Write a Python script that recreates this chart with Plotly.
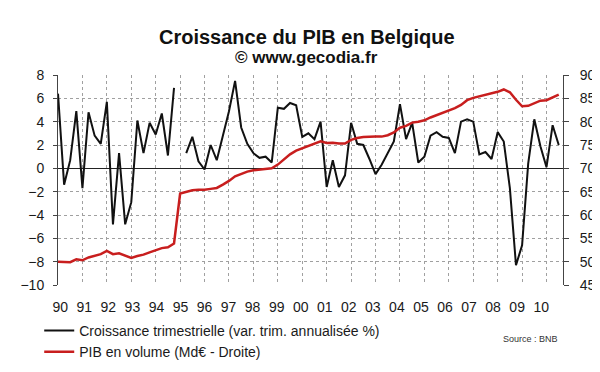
import plotly.graph_objects as go

# Quarterly data 1990Q1 .. 2010Q3
quarters = list(range(83))
croissance = [6.4, -1.4, 0.7, 4.9, -1.7, 4.8, 2.8, 2.1, 5.7, -4.8,
              1.3, -4.8, -2.9, 4.1, 1.3, 3.9, 2.9, 4.7, 1.1, 6.9,
              None, 1.3, 2.7, 0.6, -0.1, 2.0, 0.7, 2.8, 4.9, 7.5,
              3.5, 2.1, 1.3, 0.9, 1.0, 0.5, 5.2, 5.1, 5.6, 5.4,
              2.7, 3.0, 2.5, 4.0, -1.6, 0.7, -1.6, -0.6, 3.9, 2.1,
              2.0, 0.8, -0.5, 0.3, 1.3, 2.3, 5.5, 2.5, 3.9, 0.5,
              1.0, 2.8, 3.1, 2.7, 2.6, 1.3, 4.0, 4.2, 4.0, 1.2,
              1.4, 0.8, 3.1, 2.3, -1.7, -8.3, -6.6, 0.4, 4.2, 1.9,
              0.1, 3.7, 2.0]
pib = [50.0, 49.9, 49.9, 50.5, 50.3, 50.9, 51.3, 51.6, 52.3, 51.6,
       51.8, 51.3, 50.8, 51.2, 51.5, 52.0, 52.4, 52.9, 53.1, 53.9,
       64.6, 64.9, 65.3, 65.4, 65.4, 65.6, 65.8, 66.5, 67.3, 68.3,
       68.8, 69.3, 69.6, 69.75, 69.8, 70.0, 70.8, 71.9, 73.0, 73.8,
       74.3, 74.8, 75.3, 75.8, 75.45, 75.5, 75.3, 75.3, 76.1, 76.5,
       76.7, 76.8, 76.8, 76.8, 77.1, 77.7, 78.7, 79.1, 79.8, 80.0,
       80.3, 80.9, 81.4, 81.9, 82.4, 82.9, 83.6, 84.6, 85.1, 85.4,
       85.7, 86.0, 86.4, 86.9, 86.3, 84.7, 83.3, 83.4, 84.0, 84.5,
       84.6, 85.2, 85.8]
year_labels = ["90", "91", "92", "93", "94", "95", "96", "97", "98", "99",
               "00", "01", "02", "03", "04", "05", "06", "07", "08", "09", "10"]

W, Hh = 600, 372
L, R, T, B = 44.3, 563.3, 66.7, 291.0
PW, PH = R - L, B - T


def px(x):
    return (x - L) / PW


def py(y):
    return (B - y) / PH


FONT = "Liberation Sans, Arial, sans-serif"
TXT = "#1a1a1a"

fig = go.Figure()
fig.add_trace(go.Scatter(
    x=quarters, y=croissance, mode="lines", connectgaps=False,
    name="Croissance trimestrielle (var. trim. annualisée %)",
    line=dict(color="#111111", width=2), legendgroup="a"))
fig.add_trace(go.Scatter(
    x=quarters, y=pib, mode="lines", yaxis="y2",
    name="PIB en volume (Md€ - Droite)",
    line=dict(color="#c81e1e", width=2.5), legendgroup="b"))
# invisible trace to hold the year-label axis
fig.add_trace(go.Scatter(x=[None], y=[None], xaxis="x2", showlegend=False,
                         hoverinfo="skip"))

grid = dict(gridcolor="#a0a0a0", griddash="dot", gridwidth=1)

fig.update_layout(
    width=W, height=Hh,
    margin=dict(l=L, r=W - R, t=T, b=Hh - B, pad=0),
    paper_bgcolor="white", plot_bgcolor="white",
    font=dict(family=FONT, size=14, color=TXT),
    showlegend=True,
    legend=dict(x=px(25), y=py(323), xanchor="left", yanchor="top",
                font=dict(size=14, color=TXT), bgcolor="rgba(0,0,0,0)",
                tracegroupgap=2, traceorder="normal"),
    xaxis=dict(range=[0, 82.7], tickmode="array",
               tickvals=list(range(0, 84, 4)), showticklabels=False,
               ticks="", showgrid=True, zeroline=False, showline=False,
               **grid),
    xaxis2=dict(overlaying="x", range=[-0.093, 20.907], tickmode="array",
                tickvals=list(range(21)), ticktext=year_labels,
                showgrid=False, zeroline=False, showline=False, ticks="",
                side="bottom", anchor="y", ticklabelstandoff=12,
                tickfont=dict(size=14, color=TXT)),
    yaxis=dict(range=[-10, 8], tickmode="array", tickvals=list(range(-10, 9, 2)),
               showgrid=True, zeroline=True, zerolinecolor="#222222",
               zerolinewidth=1, showline=True, linecolor="#444444", linewidth=1,
               ticks="outside", ticklen=4, tickcolor="#444444",
               ticklabelstandoff=6, tickfont=dict(size=14, color=TXT), **grid),
    yaxis2=dict(range=[45, 90], tickmode="array", tickvals=list(range(45, 91, 5)),
                overlaying="y", side="right", showgrid=False, zeroline=False,
                showline=True, linecolor="#444444", linewidth=1,
                ticks="outside", ticklen=5, tickcolor="#444444",
                ticklabelstandoff=8, tickfont=dict(size=14, color=TXT)),
    annotations=[
        dict(text="<b>Croissance du PIB en Belgique</b>", x=px(300), y=py(26),
             xref="paper", yref="paper", showarrow=False,
             font=dict(size=20, color="#111111"), xanchor="center", yanchor="middle"),
        dict(text="<b>© www.gecodia.fr</b>", x=px(300), y=py(48),
             xref="paper", yref="paper", showarrow=False,
             font=dict(size=17, color="#111111"), xanchor="center", yanchor="middle"),
        dict(text="Source : BNB", x=px(530), y=py(349), xref="paper", yref="paper",
             showarrow=False, font=dict(size=9, color="#333333"),
             xanchor="center", yanchor="middle"),
    ],
)

fig.write_html("out.html")
